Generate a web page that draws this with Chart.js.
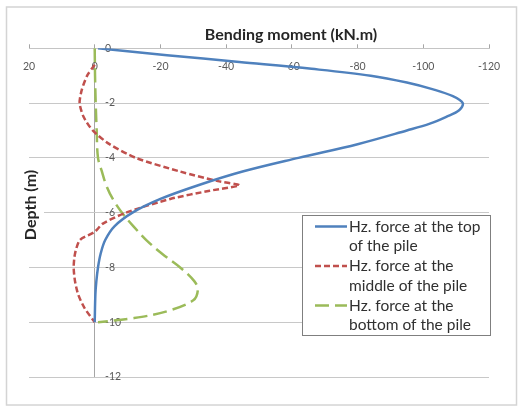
<!DOCTYPE html>
<html>
<head>
<meta charset="utf-8">
<script src="https://cdn.jsdelivr.net/npm/chart.js@4/dist/chart.umd.min.js"></script>
<style>
  html, body { margin: 0; padding: 0; background: #fff; }
  #wrap { width: 523px; height: 407px; }
</style>
</head>
<body>
<div id="wrap"><canvas id="myChart" width="523" height="407"></canvas></div>
<script>
// series names (legend text, split into the two lines of the reference)
const seriesNames = [
  ['Hz. force at the top', 'of the pile'],
  ['Hz. force at the', 'middle of the pile'],
  ['Hz. force at the', 'bottom of the pile']
];

// Hz. force at the top of the pile
const topDepth  = [0, -0.25, -0.5, -0.75, -1, -1.25, -1.5, -1.75, -2, -2.25, -2.5, -2.75, -3, -3.5, -4, -4.5, -5, -5.5, -6, -6.5, -7, -7.5, -8, -8.5, -9, -10];
const topMoment = [-1, -22, -44, -66, -84, -95, -103, -109, -112, -111, -107, -102, -95, -80, -62, -45, -31.5, -20, -11.5, -6, -3.2, -1.8, -1, -0.5, -0.2, 0];

// Hz. force at the middle of the pile
const midDepth  = [-0.6, -1, -1.5, -2, -2.5, -3, -3.5, -4, -4.5, -4.85, -5, -5.2, -5.5, -6, -6.4, -6.7, -7, -7.5, -8, -8.5, -9, -9.5, -10];
const midMoment = [0, 2.3, 3.9, 4.6, 3.4, 0.6, -4.5, -12.5, -26, -37.5, -44, -35, -23, -9.5, -2.5, 0, 4.5, 6, 6.4, 6, 5, 3, 0];

// Hz. force at the bottom of the pile
const botDepth  = [0, -1, -2, -3, -4, -4.5, -5, -5.5, -6, -6.5, -7, -7.5, -8, -8.5, -8.8, -9.2, -9.6, -9.85, -10];
const botMoment = [0, -0.1, -0.3, -0.6, -1, -2.2, -3.5, -5.5, -8.3, -11.8, -15.7, -20.5, -26, -30.3, -31.4, -30, -22, -12, -1];

// axis ranges and tick steps
const momentRange = [-120, 20];
const depthRange = [-12, 0];
const momentStep = 20;
const depthStep = 2;

const chartTitle = 'Bending moment (kN.m)';
const depthTitle = 'Depth (m)';

const colors = ['#4f81bd', '#c0504d', '#9bbb59'];
const dashes = [[], [6, 3], [14, 6]];

function toPoints(depth, moment) {
  return depth.map((d, i) => ({ x: moment[i], y: d }));
}

const textFont = 'Lato, "Open Sans", sans-serif';
const tickColor = '#595959';
const titleColor = '#262626';

// outer frame, white page and the chart title (placed off-centre, as in Excel)
const framePlugin = {
  id: 'frame',
  beforeDraw(chart) {
    const c = chart.ctx;
    c.save();
    c.fillStyle = '#fff';
    c.fillRect(0, 0, chart.width, chart.height);
    c.strokeStyle = '#d4d4d4';
    c.lineWidth = 1.5;
    c.strokeRect(6.5, 7, 510, 398);
    c.fillStyle = titleColor;
    c.font = 'bold 16px ' + textFont;
    c.textAlign = 'center';
    c.textBaseline = 'middle';
    c.fillText(chartTitle, 291, 35);
    c.restore();
  }
};

// vertical axis title sits over the plot area like in the Excel picture
const depthTitlePlugin = {
  id: 'depthTitle',
  beforeDatasetsDraw(chart) {
    const c = chart.ctx;
    c.save();
    c.fillStyle = '#fff';
    c.fillRect(22, 164, 22, 82);
    c.translate(31, 205);
    c.rotate(-Math.PI / 2);
    c.fillStyle = titleColor;
    c.font = 'bold 16px ' + textFont;
    c.textAlign = 'center';
    c.textBaseline = 'middle';
    c.fillText(depthTitle, 0, 0);
    c.restore();
  }
};

// boxed legend drawn from the datasets
const boxLegendPlugin = {
  id: 'boxLegend',
  afterDatasetsDraw(chart) {
    const c = chart.ctx;
    const left = 302.5, top = 215.5, w = 188, h = 120;
    c.save();
    c.fillStyle = '#fff';
    c.fillRect(left, top, w, h);
    c.strokeStyle = '#7f7f7f';
    c.lineWidth = 1;
    c.strokeRect(left, top, w, h);
    c.font = '15.5px ' + textFont;
    c.textBaseline = 'middle';
    chart.data.datasets.forEach((ds, i) => {
      const y = 226.5 + i * 39.5;
      c.strokeStyle = ds.borderColor;
      c.lineWidth = ds.borderWidth;
      c.setLineDash(ds.borderDash || []);
      c.beginPath();
      c.moveTo(315, y);
      c.lineTo(347, y);
      c.stroke();
      c.setLineDash([]);
      c.fillStyle = '#303030';
      ds.label.forEach((line, k) => c.fillText(line, 349, y + k * 19.5));
    });
    c.restore();
  }
};

// scales here only carry labels inside the plot, so they take no room
function noRoom(scale) {
  if (scale.isHorizontal()) scale.height = 0; else scale.width = 0;
  scale.paddingTop = 0;
  scale.paddingBottom = 0;
  scale.paddingLeft = 0;
  scale.paddingRight = 0;
}

const ctx = document.getElementById('myChart');

const myChart = new Chart(ctx, {
  type: 'line',
  data: {
    datasets: [
      { label: seriesNames[0], data: toPoints(topDepth, topMoment) },
      { label: seriesNames[1], data: toPoints(midDepth, midMoment) },
      { label: seriesNames[2], data: toPoints(botDepth, botMoment) }
    ].map((ds, i) => Object.assign(ds, {
      borderColor: colors[i],
      backgroundColor: colors[i],
      borderWidth: 2.5,
      borderDash: dashes[i],
      pointRadius: 0,
      tension: i === 1 ? 0.25 : 0.35,
      fill: false
    }))
  },
  options: {
    responsive: false,
    animation: false,
    layout: { padding: { left: 29, right: 34, top: 48.3, bottom: 30 } },
    plugins: {
      legend: { display: false },
      tooltip: { enabled: false },
      title: { display: false }
    },
    scales: {
      x: {
        type: 'linear',
        position: 'top',
        reverse: true,
        min: momentRange[0],
        max: momentRange[1],
        afterFit: noRoom,
        grid: {
          drawTicks: true,
          tickLength: 4,
          tickColor: '#a6a6a6',
          color: (c) => (c.tick && c.tick.value === 0 ? '#a6a6a6' : 'rgba(0,0,0,0)'),
          lineWidth: 1
        },
        border: { display: true, color: '#c4c4c4' },
        ticks: {
          stepSize: momentStep,
          mirror: true,
          padding: 12.4,
          color: tickColor,
          font: { family: textFont, size: 10.5 }
        }
      },
      y: {
        type: 'linear',
        position: 'left',
        min: depthRange[0],
        max: depthRange[1],
        grid: { drawTicks: false, color: '#c8c8c8', lineWidth: 1 },
        border: { display: false },
        afterFit: noRoom,
        ticks: {
          stepSize: depthStep,
          mirror: true,
          padding: 76,
          color: tickColor,
          font: { family: textFont, size: 10.5 }
        }
      }
    }
  },
  plugins: [framePlugin, depthTitlePlugin, boxLegendPlugin]
});
</script>
</body>
</html>
